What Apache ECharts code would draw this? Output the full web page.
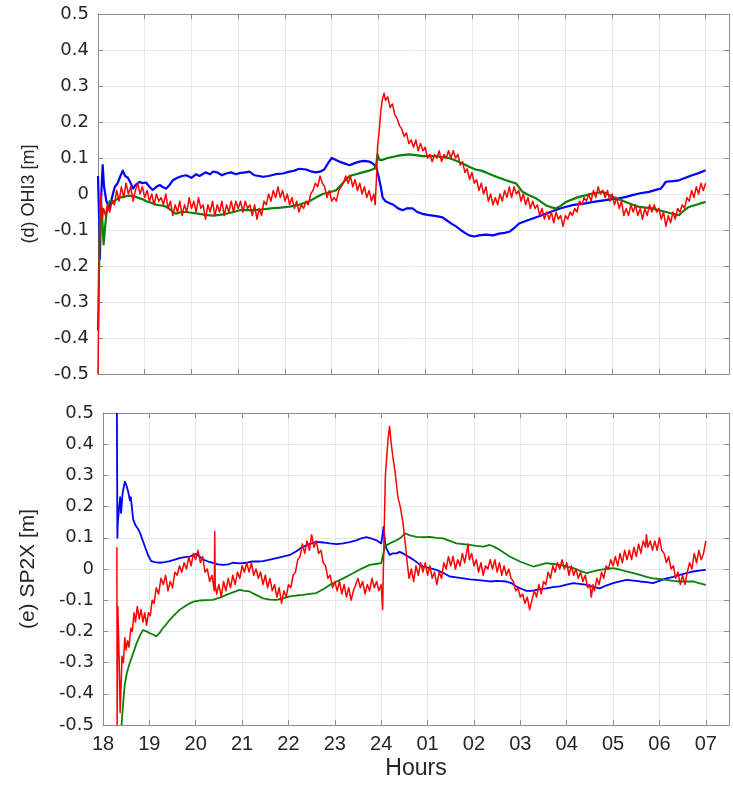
<!DOCTYPE html>
<html>
<head>
<meta charset="utf-8">
<script src="https://cdn.jsdelivr.net/npm/echarts@6/dist/echarts.min.js"></script>
<style>
  html, body { margin: 0; padding: 0; background: #fff; }
  #chart { width: 733px; height: 787px; }
</style>
</head>
<body>
<div id="chart"></div>
<script>
// Hour ticks (18:00 through 07:00 next morning), hours counted continuously from 18
const hourTicks = [18, 19, 20, 21, 22, 23, 24, 25, 26, 27, 28, 29, 30, 31];
const hourTickLabels = ['18', '19', '20', '21', '22', '23', '24', '01', '02', '03', '04', '05', '06', '07'];
const yTicks = [-0.5, -0.4, -0.3, -0.2, -0.1, 0, 0.1, 0.2, 0.3, 0.4, 0.5];

// (d) OHI3 — [hour, metres]
const ohiBlue = [
  [18.00,0.050],[18.02,-0.050],[18.04,-0.180],[18.07,0.000],[18.10,0.080],[18.13,0.020],[18.18,-0.020],[18.25,-0.040],
  [18.30,-0.010],[18.36,0.020],[18.42,0.030],[18.48,0.050],[18.53,0.065],[18.58,0.050],[18.64,0.045],[18.70,0.030],
  [18.75,0.015],[18.80,0.025],[18.89,0.034],[18.95,0.030],[19.03,0.032],[19.10,0.020],[19.17,0.011],[19.25,0.020],
  [19.32,0.025],[19.40,0.018],[19.46,0.015],[19.53,0.025],[19.60,0.038],[19.70,0.045],[19.80,0.050],[19.89,0.052],
  [20.00,0.045],[20.10,0.055],[20.17,0.050],[20.30,0.060],[20.40,0.055],[20.46,0.062],[20.55,0.060],[20.65,0.052],
  [20.74,0.057],[20.85,0.060],[20.95,0.055],[21.03,0.058],[21.15,0.060],[21.24,0.062],[21.35,0.052],[21.53,0.048],
  [21.65,0.050],[21.80,0.055],[21.95,0.057],[22.10,0.062],[22.20,0.065],[22.31,0.070],[22.45,0.068],[22.55,0.063],
  [22.66,0.060],[22.75,0.062],[22.84,0.068],[22.92,0.085],[23.00,0.100],[23.08,0.095],[23.16,0.090],[23.27,0.085],
  [23.38,0.080],[23.48,0.085],[23.59,0.090],[23.70,0.092],[23.80,0.090],[23.88,0.085],[23.95,0.075],[24.00,0.050],
  [24.05,0.020],[24.09,-0.010],[24.15,-0.020],[24.23,-0.025],[24.32,-0.030],[24.42,-0.040],[24.52,-0.045],[24.60,-0.040],
  [24.73,-0.040],[24.83,-0.050],[24.94,-0.055],[25.05,-0.058],[25.16,-0.060],[25.27,-0.062],[25.37,-0.065],[25.48,-0.075],
  [25.57,-0.083],[25.66,-0.090],[25.76,-0.100],[25.85,-0.108],[25.94,-0.115],[26.05,-0.118],[26.15,-0.115],[26.30,-0.113],
  [26.45,-0.115],[26.58,-0.110],[26.70,-0.108],[26.80,-0.105],[26.90,-0.095],[27.01,-0.082],[27.15,-0.075],[27.30,-0.068],
  [27.44,-0.062],[27.58,-0.055],[27.72,-0.048],[27.87,-0.041],[28.00,-0.036],[28.15,-0.031],[28.30,-0.028],[28.43,-0.026],
  [28.60,-0.022],[28.75,-0.019],[28.86,-0.017],[29.00,-0.014],[29.15,-0.012],[29.30,-0.008],[29.43,-0.003],[29.60,0.002],
  [29.79,0.006],[29.95,0.012],[30.04,0.015],[30.10,0.025],[30.15,0.034],[30.30,0.036],[30.43,0.038],[30.57,0.045],
  [30.71,0.052],[30.85,0.058],[31.00,0.066]
];
const ohiGreen = [
  [18.00,-0.380],[18.02,-0.220],[18.05,-0.020],[18.08,-0.040],[18.12,-0.140],[18.16,-0.080],[18.18,-0.055],[18.25,-0.020],
  [18.35,-0.020],[18.45,-0.010],[18.55,-0.008],[18.65,-0.005],[18.75,-0.005],[18.85,-0.010],[18.96,-0.015],[19.03,-0.020],
  [19.15,-0.025],[19.25,-0.030],[19.35,-0.032],[19.46,-0.035],[19.56,-0.045],[19.67,-0.055],[19.78,-0.050],[19.89,-0.050],
  [20.00,-0.052],[20.17,-0.055],[20.30,-0.058],[20.46,-0.060],[20.60,-0.058],[20.74,-0.055],[20.90,-0.050],[21.03,-0.045],
  [21.20,-0.045],[21.35,-0.045],[21.50,-0.043],[21.70,-0.040],[21.90,-0.038],[22.10,-0.035],[22.30,-0.030],[22.52,-0.020],
  [22.66,-0.010],[22.81,0.000],[22.95,0.005],[23.09,0.010],[23.20,0.025],[23.30,0.040],[23.38,0.050],[23.52,0.055],
  [23.66,0.060],[23.80,0.065],[23.91,0.070],[23.95,0.080],[23.98,0.110],[24.02,0.095],[24.09,0.095],[24.20,0.100],
  [24.37,0.105],[24.50,0.108],[24.66,0.110],[24.80,0.108],[24.94,0.105],[25.10,0.105],[25.23,0.105],[25.37,0.102],
  [25.51,0.100],[25.65,0.093],[25.80,0.085],[25.95,0.075],[26.08,0.068],[26.20,0.065],[26.30,0.060],[26.44,0.052],
  [26.58,0.045],[26.73,0.038],[26.85,0.033],[26.94,0.030],[27.00,0.020],[27.08,0.006],[27.20,-0.002],[27.37,-0.012],
  [27.48,-0.022],[27.58,-0.031],[27.70,-0.037],[27.79,-0.040],[27.90,-0.033],[28.01,-0.022],[28.15,-0.015],[28.29,-0.008],
  [28.45,-0.003],[28.58,0.001],[28.70,0.004],[28.79,0.006],[28.90,0.000],[29.01,-0.008],[29.15,-0.015],[29.29,-0.022],
  [29.44,-0.030],[29.58,-0.036],[29.72,-0.038],[29.86,-0.040],[30.00,-0.045],[30.15,-0.050],[30.30,-0.055],[30.43,-0.059],
  [30.50,-0.050],[30.64,-0.036],[30.80,-0.030],[31.00,-0.022]
];
const ohiRed = [
  [18.00,-0.50],[18.02,-0.26],[18.04,-0.05],[18.06,0.00],[18.09,-0.07],[18.12,-0.04],[18.16,-0.06],[18.20,-0.03],
  [18.25,-0.05],[18.30,-0.02],[18.35,-0.03],[18.40,0.01],[18.45,-0.02],[18.50,0.02],[18.55,-0.01],[18.60,0.03],
  [18.65,0.00],[18.70,0.02],[18.75,-0.02],[18.80,0.01],[18.85,0.03],[18.90,0.00],[18.95,0.02],[19.00,-0.01],
  [19.05,0.01],[19.10,-0.02],[19.15,0.00],[19.20,-0.03],[19.25,0.00],[19.30,-0.02],[19.35,-0.01],[19.40,-0.03],
  [19.45,0.00],[19.50,-0.04],[19.55,-0.02],[19.60,-0.06],[19.65,-0.03],[19.70,-0.05],[19.75,-0.02],[19.80,-0.06],
  [19.85,-0.03],[19.90,-0.05],[19.95,-0.01],[20.00,-0.04],[20.05,-0.02],[20.10,-0.05],[20.15,-0.01],[20.20,-0.04],
  [20.25,-0.03],[20.30,-0.07],[20.35,-0.03],[20.40,-0.05],[20.45,-0.02],[20.50,-0.06],[20.55,-0.03],[20.60,-0.05],
  [20.65,-0.02],[20.70,-0.06],[20.75,-0.03],[20.80,-0.05],[20.85,-0.02],[20.90,-0.05],[20.95,-0.02],[21.00,-0.04],
  [21.05,-0.02],[21.10,-0.05],[21.15,-0.02],[21.20,-0.04],[21.25,-0.03],[21.30,-0.06],[21.35,-0.03],[21.40,-0.07],
  [21.45,-0.04],[21.50,-0.06],[21.55,-0.02],[21.60,-0.03],[21.65,0.00],[21.70,-0.02],[21.75,0.01],[21.80,-0.01],
  [21.85,0.02],[21.90,-0.01],[21.95,0.01],[22.00,-0.02],[22.05,0.00],[22.10,-0.03],[22.15,-0.01],[22.20,-0.04],
  [22.25,-0.02],[22.30,-0.05],[22.35,-0.03],[22.40,-0.04],[22.45,-0.02],[22.50,-0.03],[22.55,0.00],[22.60,0.01],
  [22.65,0.03],[22.70,0.02],[22.75,0.05],[22.80,0.03],[22.85,0.02],[22.90,-0.01],[22.95,0.01],[23.00,-0.02],
  [23.05,-0.01],[23.10,-0.02],[23.15,0.01],[23.20,0.02],[23.25,0.03],[23.30,0.05],[23.35,0.03],[23.40,0.05],
  [23.45,0.02],[23.50,0.04],[23.55,0.01],[23.60,0.03],[23.65,0.00],[23.70,0.02],[23.75,-0.01],[23.80,0.01],
  [23.85,-0.02],[23.90,0.00],[23.93,-0.03],[23.96,0.05],[23.98,0.13],[24.02,0.18],[24.05,0.23],[24.08,0.26],
  [24.12,0.28],[24.15,0.26],[24.20,0.27],[24.25,0.24],[24.30,0.25],[24.35,0.22],[24.40,0.21],[24.45,0.19],
  [24.50,0.18],[24.55,0.16],[24.60,0.17],[24.65,0.14],[24.70,0.15],[24.75,0.13],[24.80,0.15],[24.85,0.12],
  [24.90,0.14],[24.95,0.12],[25.00,0.13],[25.05,0.10],[25.10,0.11],[25.15,0.09],[25.20,0.11],[25.25,0.10],
  [25.30,0.12],[25.35,0.09],[25.40,0.11],[25.45,0.10],[25.50,0.12],[25.55,0.10],[25.60,0.12],[25.65,0.10],
  [25.70,0.11],[25.75,0.08],[25.80,0.09],[25.85,0.06],[25.90,0.07],[25.95,0.04],[26.00,0.06],[26.05,0.03],
  [26.10,0.04],[26.15,0.01],[26.20,0.03],[26.25,0.00],[26.30,0.02],[26.35,-0.02],[26.40,0.00],[26.45,-0.03],
  [26.50,-0.01],[26.55,-0.03],[26.60,0.00],[26.65,-0.02],[26.70,0.01],[26.75,-0.01],[26.80,0.02],[26.85,-0.01],
  [26.90,0.02],[26.95,0.00],[27.00,0.01],[27.05,-0.02],[27.10,0.00],[27.15,-0.03],[27.20,-0.01],[27.25,-0.04],
  [27.30,-0.02],[27.35,-0.04],[27.40,-0.03],[27.45,-0.06],[27.50,-0.04],[27.55,-0.07],[27.60,-0.05],[27.65,-0.07],
  [27.70,-0.05],[27.75,-0.08],[27.80,-0.05],[27.85,-0.07],[27.90,-0.06],[27.95,-0.09],[28.00,-0.06],[28.05,-0.07],
  [28.10,-0.05],[28.15,-0.06],[28.20,-0.04],[28.25,-0.05],[28.30,-0.02],[28.35,-0.03],[28.40,-0.01],[28.45,-0.02],
  [28.50,0.00],[28.55,-0.02],[28.60,0.01],[28.65,-0.01],[28.70,0.02],[28.75,0.00],[28.80,0.01],[28.85,-0.01],
  [28.90,0.01],[28.95,-0.02],[29.00,0.00],[29.05,-0.03],[29.10,-0.01],[29.15,-0.04],[29.20,-0.02],[29.25,-0.06],
  [29.30,-0.04],[29.35,-0.06],[29.40,-0.03],[29.45,-0.05],[29.50,-0.03],[29.55,-0.06],[29.60,-0.04],[29.65,-0.07],
  [29.70,-0.04],[29.75,-0.06],[29.80,-0.03],[29.85,-0.05],[29.90,-0.03],[29.95,-0.05],[30.00,-0.04],[30.05,-0.07],
  [30.10,-0.05],[30.15,-0.09],[30.20,-0.06],[30.25,-0.08],[30.30,-0.05],[30.35,-0.07],[30.40,-0.04],[30.45,-0.05],
  [30.50,-0.03],[30.55,-0.04],[30.60,-0.01],[30.65,-0.02],[30.70,0.01],[30.75,-0.01],[30.80,0.02],[30.85,0.00],
  [30.90,0.03],[30.95,0.01],[31.00,0.03]
];

// (e) SP2X — [hour, metres]
const spBlue = [
  [18.30,0.500],[18.31,0.100],[18.32,0.150],[18.35,0.200],[18.37,0.230],[18.39,0.180],[18.42,0.240],[18.47,0.280],
  [18.50,0.270],[18.54,0.250],[18.58,0.220],[18.60,0.230],[18.65,0.160],[18.70,0.140],[18.75,0.130],[18.80,0.115],
  [18.86,0.090],[18.92,0.065],[18.97,0.045],[19.04,0.025],[19.12,0.022],[19.22,0.020],[19.33,0.022],[19.44,0.025],
  [19.55,0.030],[19.65,0.035],[19.76,0.038],[19.87,0.040],[19.95,0.045],[20.01,0.048],[20.08,0.040],[20.16,0.030],
  [20.27,0.024],[20.37,0.020],[20.48,0.015],[20.59,0.013],[20.70,0.015],[20.80,0.020],[20.95,0.018],[21.09,0.020],
  [21.20,0.024],[21.32,0.024],[21.45,0.025],[21.60,0.030],[21.74,0.035],[21.88,0.040],[22.03,0.045],[22.17,0.057],
  [22.31,0.071],[22.45,0.080],[22.60,0.087],[22.75,0.085],[22.89,0.082],[23.04,0.080],[23.18,0.082],[23.32,0.086],
  [23.46,0.092],[23.57,0.098],[23.68,0.102],[23.80,0.097],[23.90,0.092],[24.00,0.082],[24.03,0.110],[24.05,0.135],
  [24.08,0.090],[24.10,0.070],[24.18,0.045],[24.25,0.050],[24.33,0.050],[24.40,0.055],[24.47,0.050],[24.58,0.040],
  [24.69,0.030],[24.80,0.018],[24.90,0.008],[25.05,0.003],[25.19,-0.003],[25.33,-0.012],[25.48,-0.024],[25.62,-0.027],
  [25.77,-0.030],[25.91,-0.033],[26.05,-0.035],[26.20,-0.037],[26.34,-0.040],[26.50,-0.038],[26.70,-0.040],[26.80,-0.045],
  [26.92,-0.056],[27.03,-0.064],[27.13,-0.070],[27.24,-0.070],[27.35,-0.067],[27.46,-0.064],[27.56,-0.062],[27.70,-0.058],
  [27.85,-0.056],[28.00,-0.050],[28.14,-0.045],[28.28,-0.048],[28.43,-0.051],[28.57,-0.057],[28.71,-0.062],[28.85,-0.053],
  [29.00,-0.045],[29.15,-0.040],[29.29,-0.035],[29.44,-0.037],[29.58,-0.040],[29.72,-0.042],[29.86,-0.045],[30.00,-0.038],
  [30.15,-0.030],[30.30,-0.025],[30.44,-0.019],[30.58,-0.013],[30.73,-0.008],[30.85,-0.005],[31.00,-0.003]
];
const spGreen = [
  [18.40,-0.500],[18.44,-0.420],[18.47,-0.370],[18.52,-0.330],[18.58,-0.300],[18.65,-0.270],[18.72,-0.240],[18.79,-0.215],
  [18.86,-0.196],[18.94,-0.200],[19.01,-0.206],[19.08,-0.210],[19.15,-0.216],[19.22,-0.205],[19.29,-0.190],[19.36,-0.178],
  [19.44,-0.163],[19.54,-0.147],[19.65,-0.131],[19.76,-0.120],[19.87,-0.110],[19.97,-0.104],[20.08,-0.101],[20.22,-0.100],
  [20.37,-0.099],[20.52,-0.092],[20.66,-0.083],[20.80,-0.075],[20.95,-0.067],[21.05,-0.070],[21.16,-0.072],[21.30,-0.083],
  [21.45,-0.094],[21.60,-0.098],[21.74,-0.099],[21.88,-0.094],[22.03,-0.088],[22.17,-0.085],[22.31,-0.083],[22.46,-0.080],
  [22.60,-0.077],[22.75,-0.065],[22.89,-0.051],[23.04,-0.040],[23.18,-0.030],[23.32,-0.019],[23.46,-0.008],[23.60,0.003],
  [23.75,0.013],[23.88,0.016],[24.00,0.019],[24.04,0.045],[24.08,0.072],[24.18,0.082],[24.33,0.092],[24.42,0.100],
  [24.51,0.114],[24.62,0.108],[24.76,0.103],[24.90,0.102],[25.05,0.103],[25.19,0.100],[25.33,0.098],[25.48,0.090],
  [25.62,0.082],[25.77,0.080],[25.91,0.077],[26.05,0.074],[26.20,0.072],[26.34,0.077],[26.45,0.070],[26.56,0.061],
  [26.67,0.050],[26.77,0.040],[26.88,0.032],[26.99,0.024],[27.13,0.016],[27.28,0.008],[27.42,0.013],[27.56,0.019],
  [27.70,0.016],[27.85,0.013],[28.00,0.008],[28.14,0.003],[28.28,-0.005],[28.43,-0.013],[28.57,-0.008],[28.71,-0.003],
  [28.85,0.000],[29.00,0.003],[29.15,-0.002],[29.29,-0.008],[29.44,-0.013],[29.58,-0.019],[29.72,-0.025],[29.86,-0.030],
  [30.00,-0.032],[30.15,-0.035],[30.30,-0.038],[30.44,-0.040],[30.58,-0.040],[30.73,-0.040],[30.85,-0.045],[31.00,-0.051]
];
const spRed = [
  [18.30,0.07],[18.305,-0.50],[18.32,-0.12],[18.35,-0.30],[18.37,-0.46],[18.41,-0.28],[18.44,-0.30],[18.47,-0.22],
  [18.50,-0.26],[18.53,-0.23],[18.56,-0.25],[18.60,-0.19],[18.63,-0.20],[18.67,-0.14],[18.70,-0.17],[18.74,-0.12],
  [18.78,-0.16],[18.82,-0.13],[18.86,-0.17],[18.90,-0.14],[18.94,-0.18],[18.98,-0.14],[19.02,-0.15],[19.06,-0.10],
  [19.10,-0.11],[19.15,-0.06],[19.20,-0.08],[19.25,-0.03],[19.30,-0.05],[19.35,-0.02],[19.40,-0.07],[19.45,-0.04],
  [19.50,-0.06],[19.55,-0.01],[19.60,-0.02],[19.65,0.01],[19.70,-0.01],[19.75,0.02],[19.80,0.00],[19.85,0.04],
  [19.90,0.01],[19.95,0.05],[20.00,0.03],[20.05,0.06],[20.10,0.02],[20.15,0.04],[20.20,-0.01],[20.25,0.00],
  [20.30,-0.04],[20.35,-0.02],[20.40,-0.07],[20.41,0.12],[20.42,-0.05],[20.45,-0.08],[20.50,-0.05],[20.55,-0.09],
  [20.60,-0.04],[20.65,-0.07],[20.70,-0.03],[20.75,-0.06],[20.80,-0.02],[20.85,-0.05],[20.90,-0.01],[20.95,-0.03],
  [21.00,0.01],[21.05,-0.01],[21.10,0.02],[21.15,-0.01],[21.20,0.02],[21.25,-0.02],[21.30,0.00],[21.35,-0.03],
  [21.40,-0.01],[21.45,-0.05],[21.50,-0.02],[21.55,-0.06],[21.60,-0.03],[21.65,-0.07],[21.70,-0.05],[21.75,-0.09],
  [21.80,-0.06],[21.85,-0.11],[21.90,-0.07],[21.95,-0.09],[22.00,-0.05],[22.05,-0.06],[22.10,-0.02],[22.15,-0.01],
  [22.20,0.03],[22.25,0.04],[22.30,0.08],[22.35,0.05],[22.40,0.09],[22.45,0.06],[22.50,0.11],[22.55,0.07],
  [22.60,0.09],[22.65,0.05],[22.70,0.06],[22.75,0.02],[22.80,0.01],[22.85,-0.03],[22.90,-0.02],[22.95,-0.06],
  [23.00,-0.04],[23.05,-0.07],[23.10,-0.04],[23.15,-0.08],[23.20,-0.05],[23.25,-0.09],[23.30,-0.06],[23.35,-0.10],
  [23.40,-0.07],[23.45,-0.05],[23.50,-0.03],[23.55,-0.06],[23.60,-0.04],[23.65,-0.08],[23.70,-0.05],[23.75,-0.07],
  [23.80,-0.03],[23.85,-0.06],[23.90,-0.04],[23.95,-0.07],[24.00,-0.05],[24.03,-0.13],[24.06,0.10],[24.09,0.30],
  [24.12,0.36],[24.15,0.42],[24.18,0.457],[24.21,0.41],[24.25,0.36],[24.30,0.31],[24.36,0.23],[24.41,0.20],
  [24.47,0.147],[24.52,0.08],[24.56,0.02],[24.60,-0.03],[24.65,0.00],[24.70,-0.04],[24.75,0.01],[24.80,-0.02],
  [24.85,0.02],[24.90,-0.01],[24.95,0.02],[25.00,-0.02],[25.05,0.01],[25.10,-0.03],[25.15,-0.01],[25.20,-0.05],
  [25.25,-0.01],[25.30,-0.03],[25.35,0.02],[25.40,0.00],[25.45,0.04],[25.50,0.01],[25.55,0.04],[25.60,0.00],
  [25.65,0.03],[25.70,0.01],[25.75,0.05],[25.80,0.02],[25.85,0.06],[25.87,0.08],[25.90,0.03],[25.95,0.05],
  [26.00,0.01],[26.05,0.03],[26.10,-0.01],[26.15,0.02],[26.20,-0.02],[26.25,0.01],[26.30,0.00],[26.35,0.03],
  [26.40,0.00],[26.45,0.03],[26.50,-0.01],[26.55,0.02],[26.60,-0.02],[26.65,0.01],[26.70,-0.02],[26.75,0.00],
  [26.80,-0.03],[26.85,-0.04],[26.90,-0.07],[26.95,-0.06],[27.00,-0.09],[27.05,-0.08],[27.10,-0.11],[27.15,-0.09],
  [27.20,-0.13],[27.25,-0.10],[27.30,-0.07],[27.35,-0.09],[27.40,-0.05],[27.45,-0.08],[27.50,-0.04],[27.55,-0.05],
  [27.60,-0.01],[27.65,-0.03],[27.70,0.01],[27.75,-0.01],[27.80,0.02],[27.85,0.00],[27.90,0.03],[27.95,0.00],
  [28.00,0.02],[28.05,-0.02],[28.10,0.01],[28.15,-0.02],[28.20,0.00],[28.25,-0.03],[28.30,-0.01],[28.35,-0.04],
  [28.40,-0.02],[28.45,-0.06],[28.50,-0.05],[28.53,-0.09],[28.57,-0.05],[28.60,-0.07],[28.65,-0.03],[28.70,-0.05],
  [28.75,-0.01],[28.80,-0.03],[28.85,0.01],[28.90,0.00],[28.95,0.03],[29.00,0.01],[29.05,0.04],[29.10,0.01],
  [29.15,0.05],[29.20,0.02],[29.25,0.06],[29.30,0.03],[29.35,0.06],[29.40,0.03],[29.45,0.07],[29.50,0.04],
  [29.55,0.08],[29.60,0.05],[29.65,0.09],[29.70,0.07],[29.72,0.11],[29.75,0.07],[29.80,0.09],[29.85,0.06],
  [29.90,0.09],[29.95,0.06],[30.00,0.10],[30.05,0.06],[30.10,0.05],[30.15,0.02],[30.20,0.04],[30.25,0.00],
  [30.30,0.01],[30.35,-0.03],[30.40,-0.01],[30.45,-0.05],[30.50,-0.02],[30.55,-0.05],[30.60,-0.01],[30.65,0.02],
  [30.70,0.00],[30.75,0.05],[30.80,0.02],[30.85,0.06],[30.90,0.03],[30.95,0.05],[31.00,0.09]
];

const chart = echarts.init(document.getElementById('chart'), null, { renderer: 'canvas' });

const BOX = '#8c8c8c';
const GRIDC = '#e8e8e8';
const TXT = '#262626';
const SANS = '"Liberation Sans", Arial, sans-serif';

function hourLabel(v) {
  const i = hourTicks.indexOf(Math.round(v));
  return (Math.abs(v - Math.round(v)) < 1e-6 && i >= 0) ? hourTickLabels[i] : '';
}
function yLabel(v) {
  const r = Math.round(v * 10) / 10;
  return yTicks.indexOf(r) >= 0 ? (r === 0 ? '0' : r.toFixed(1)) : '';
}

function xAxisPair(gridIndex, withLabels) {
  const base = {
    type: 'value', gridIndex, min: 18, max: 31.5, interval: 1,
    axisLine: { show: true, onZero: false, lineStyle: { color: BOX, width: 1 } },
    axisTick: { show: true, inside: true, length: 5, lineStyle: { color: BOX } },
    splitLine: { show: false }
  };
  return [
    Object.assign({}, base, {
      position: 'bottom',
      splitLine: { show: true, lineStyle: { color: GRIDC, width: 1 } },
      axisLabel: withLabels ? {
        show: true, formatter: hourLabel, fontSize: 20, color: TXT,
        fontFamily: SANS, margin: 9, showMaxLabel: false
      } : { show: false },
      name: withLabels ? 'Hours' : '',
      nameLocation: 'middle', nameGap: 32,
      nameTextStyle: { fontSize: 23, color: TXT, fontFamily: SANS }
    }),
    Object.assign({}, base, { position: 'top', axisLabel: { show: false } })
  ];
}

function yAxisPair(gridIndex, title, titleSize, gap) {
  const base = {
    type: 'value', gridIndex, min: -0.5, max: 0.5, interval: 0.1,
    axisLine: { show: true, onZero: false, lineStyle: { color: BOX, width: 1 } },
    axisTick: { show: true, inside: true, length: 5, lineStyle: { color: BOX } },
    splitLine: { show: false }
  };
  return [
    Object.assign({}, base, {
      position: 'left',
      splitLine: { show: true, lineStyle: { color: GRIDC, width: 1 } },
      axisLabel: {
        show: true, formatter: yLabel, fontSize: 18, color: TXT,
        fontFamily: '"DejaVu Sans", sans-serif', margin: 9
      },
      name: title, nameLocation: 'middle', nameGap: gap, nameRotate: 90,
      nameTextStyle: { fontSize: titleSize, color: TXT, fontFamily: SANS }
    }),
    Object.assign({}, base, { position: 'right', axisLabel: { show: false } })
  ];
}

function line(name, data, color, width, xi, yi, z) {
  return {
    name, type: 'line', data, xAxisIndex: xi, yAxisIndex: yi,
    showSymbol: false, symbol: 'none', z,
    lineStyle: { color, width, join: 'round' }, itemStyle: { color },
    animation: false
  };
}

chart.setOption({
  backgroundColor: '#ffffff',
  animation: false,
  grid: [
    { left: 98, top: 14, width: 631, height: 360 },
    { left: 103, top: 413, width: 626, height: 312 }
  ],
  xAxis: [].concat(xAxisPair(0, false), xAxisPair(1, true)),
  yAxis: [].concat(yAxisPair(0, '(d) OHI3 [m]', 18, 60), yAxisPair(1, '(e) SP2X [m]', 21, 64)),
  series: [
    line('OHI3 blue', ohiBlue, '#0000ff', 2.2, 0, 0, 2),
    line('OHI3 green', ohiGreen, '#0a820a', 2.2, 0, 0, 3),
    line('OHI3 red', ohiRed, '#ff0000', 1.5, 0, 0, 4),
    line('SP2X blue', spBlue, '#0000ff', 1.8, 2, 2, 2),
    line('SP2X green', spGreen, '#0a820a', 1.8, 2, 2, 3),
    line('SP2X red', spRed, '#ff0000', 1.5, 2, 2, 4)
  ]
});
</script>
</body>
</html>
